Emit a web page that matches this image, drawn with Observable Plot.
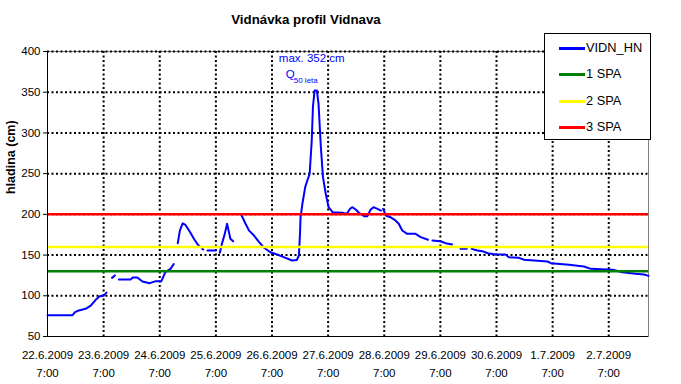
<!DOCTYPE html>
<html>
<head>
<meta charset="utf-8">
<script src="https://cdn.jsdelivr.net/npm/d3@7"></script>
<script src="https://cdn.jsdelivr.net/npm/@observablehq/plot@0.6"></script>
<style>
  html, body { margin: 0; padding: 0; background: #fff; }
  #wrap { position: relative; width: 681px; height: 384px; font-family: "Liberation Sans", Arial, sans-serif; }
  #title { position: absolute; left: 0; width: 612px; top: 12px; text-align: center; font-weight: bold; font-size: 13.3px; line-height: 16px; color: #000; }
  #legend { position: absolute; left: 544px; top: 33px; width: 107px; height: 107px; border: 1px solid #000; background: #fff; box-sizing: border-box; }
  .lg-row { position: absolute; left: 0; height: 16px; }
  .lg-line { position: absolute; left: 14px; width: 26px; height: 3px; top: 7px; }
  .lg-text { position: absolute; left: 41px; top: 0; font-size: 12.8px; line-height: 16px; white-space: nowrap; color: #000; }
</style>
</head>
<body>
<div id="wrap">
  <div id="chart"></div>
  <div id="title"></div>
  <div id="legend"></div>
</div>
<script>
// ---- data ----
const chartTitle = "Vidnávka profil Vidnava";
const yLabel = "hladina (cm)";
const seriesName = "VIDN_HN";
// hours since 22.6.2009 7:00 ; null level = gap in record
const hours = [
  0, 10.6, 11.8, 13.4, 16.3, 18.5, 20.6, 22.3, 24, 25.2, 26,
  27.6, 28.8, 29.5,
  30.5, 35.5, 36.5, 38.4, 40.6, 43.7, 46.3, 48.7, 50.4, 52.6, 54, 55,
  55.7, 56.6, 57.8, 59, 61, 62.6, 64.3, 65.5, 65.9,
  66.2, 66.6, 67.5,
  68.4, 72, 72.8,
  73.7, 74.6, 75.8, 76.8, 77.5, 78.2, 79.4, 80.5,
  82.8, 84.7, 86.2, 88.3, 90.5, 92.6, 95.3, 98.2, 101, 104.6, 106.6, 107.5, 108, 108.2,
  109, 110.2, 111.1, 112.1, 113, 113.5, 114.2, 115.2, 115.9, 116.9, 117.8, 119, 120.2,
  121.9, 126, 128, 129.4, 130.3, 131.8, 133.2, 135.4, 136.8, 138.2, 139.4, 141.1, 142.6, 143,
  143.5, 144.7, 146.6, 148.8, 150.2, 151.7, 153.8, 157.4, 159.6, 162.7, 163.5,
  164.6, 168, 170.2, 173, 174.5,
  176.6, 179.3, 180.2,
  181.4, 183.8, 186, 188.2, 191.8, 195.8, 197.3, 201.6, 203.8, 213.8, 215.3, 223, 229.4,
  232.3, 241.7, 245.8, 251.5, 255.1, 257
];
const level = [
  76, 76, 80, 82, 84, 88, 95, 99.5, 100, 104, null,
  122, 125, null,
  120, 120, 122.5, 122.5, 117.6, 115.5, 118, 118, 129, 133, 139, null,
  164.6, 180, 189, 187, 178, 170, 162.6, 159.7, null,
  157.5, 157, null,
  155.6, 155.6, null,
  152.8, 164, 176, 188.4, 179.4, 170, 167, null,
  199.8, 188.4, 180, 174, 166, 159, 153.5, 150.7, 147.4, 143.3, 144, 149.5, 178, 196.5,
  213, 233.4, 241.6, 249.8, 290.7, 331.6, 352, 352, 335.7, 282.5, 245.7, 225, 208.8,
  202.6, 202, 200.7, 206.8, 208.8, 206, 202, 197.8, 197.8, 206, 208.8, 206.8, 204.7, null,
  206.8, 198.6, 196.5, 192.5, 188.4, 180.2, 176.1, 176.1, 172, 168.8, null,
  168, 167, 164.6, 163, null,
  157.7, 157.7, null,
  157.7, 155.6, 154.8, 152.3, 150.7, 150.7, 147.4, 146.6, 144.2, 142.1, 140, 138, 136,
  133.1, 131.9, 129, 127, 126.2, 124.5
];
const thresholdNames = ["1 SPA", "2 SPA", "3 SPA"];
const thresholdValues = [130, 160, 200];
const thresholdColors = ["#008000", "#ffff00", "#ff0000"];
const seriesColor = "#0000ff";
const yTicks = [50, 100, 150, 200, 250, 300, 350, 400];
const xTickDays = ["2009-06-22", "2009-06-23", "2009-06-24", "2009-06-25", "2009-06-26", "2009-06-27",
                   "2009-06-28", "2009-06-29", "2009-06-30", "2009-07-01", "2009-07-02"];
const xTickTime = "7:00";
const peakLabel = "max. 352 cm";
const peakValue = 352;
const returnLabelMain = "Q";
const returnLabelSub = "50 leta";

// ---- build ----
const start = Date.UTC(2009, 5, 22, 7);
const H = 3600 * 1000;
const series = hours.map((h, i) => ({t: new Date(start + h * H), v: level[i]}));
const xTicks = xTickDays.map(s => new Date(s + "T07:00:00Z"));
const xDomain = [new Date(start), new Date(start + 257 * H)];
const peakIdx = level.indexOf(peakValue);
const peak = [{t: new Date(start + (hours[peakIdx] + 0.5) * H), v: peakValue}];
const fmt = d => `${d.getUTCDate()}.${d.getUTCMonth() + 1}.${d.getUTCFullYear()}\n${xTickTime}`;
const thresholds = thresholdValues.map((v, i) => ({v, name: thresholdNames[i], color: thresholdColors[i]}));

const dots = {stroke: "#000", strokeWidth: 2, strokeDasharray: "2,2.5"};

const chart = Plot.plot({
  width: 681,
  height: 384,
  marginTop: 51,
  marginLeft: 47,
  marginRight: 33,
  marginBottom: 48,
  style: {fontFamily: "'Liberation Sans', Arial, sans-serif", fontSize: "11.5px", color: "#000", background: "#fff"},
  x: {type: "utc", domain: xDomain},
  y: {domain: [50, 400]},
  marks: [
    Plot.frame({stroke: "#808080", strokeWidth: 1}),
    Plot.ruleY(yTicks.slice(1), dots),
    Plot.ruleX(xTicks.slice(1), dots),
    Plot.line(series, {x: "t", y: "v", stroke: seriesColor, strokeWidth: 2}),
    Plot.ruleY(thresholds, {y: "v", stroke: "color", strokeWidth: 2.5}),
    Plot.ruleX([xDomain[0]], {stroke: "#000", strokeWidth: 1}),
    Plot.ruleY([50], {stroke: "#000", strokeWidth: 1}),
    Plot.axisY({ticks: yTicks, tickSize: 4, tickPadding: 3, label: null, fontSize: 11.5}),
    Plot.axisX({ticks: xTicks, tickFormat: fmt, tickSize: 0, tickPadding: 10, lineHeight: 1.55, label: null, fontSize: 11.5}),
    Plot.text([yLabel], {frameAnchor: "left", rotate: -90, dx: -37, dy: 0, fontWeight: "bold", fontSize: 12.5, fill: "#000"}),
    Plot.text(peak, {x: "t", y: "v", text: () => peakLabel, dx: -4, dy: -32, fill: seriesColor, fontSize: 11.5}),
    Plot.text(peak, {x: "t", y: "v", text: () => returnLabelMain, dx: -30, dy: -16, textAnchor: "start", fill: seriesColor, fontSize: 11.5}),
    Plot.text(peak, {x: "t", y: "v", text: () => returnLabelSub, dx: -22, dy: -10.5, textAnchor: "start", fill: seriesColor, fontSize: 8})
  ]
});
document.getElementById("chart").appendChild(chart);
document.getElementById("title").textContent = chartTitle;

const legend = document.getElementById("legend");
const rows = [{name: seriesName, color: seriesColor}, ...thresholds];
rows.forEach((r, i) => {
  const row = document.createElement("div");
  row.className = "lg-row";
  row.style.top = (5.5 + i * 26.5) + "px";
  const ln = document.createElement("div");
  ln.className = "lg-line";
  ln.style.background = r.color;
  const tx = document.createElement("div");
  tx.className = "lg-text";
  tx.textContent = r.name;
  row.appendChild(ln); row.appendChild(tx);
  legend.appendChild(row);
});
</script>
</body>
</html>
